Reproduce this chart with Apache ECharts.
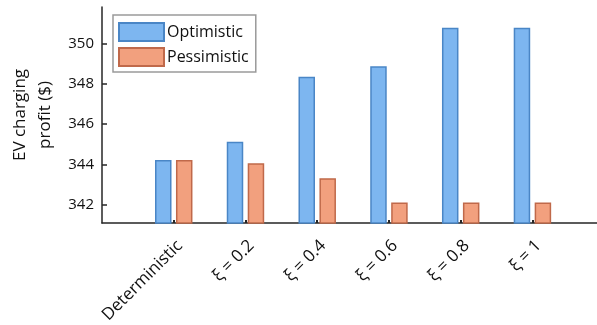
<!DOCTYPE html>
<html>
<head>
<meta charset="utf-8">
<script src="https://cdn.jsdelivr.net/npm/echarts@6/dist/echarts.min.js"></script>
<style>
html,body{margin:0;padding:0;background:#fff;}
#chart{width:597px;height:325px;}
</style>
</head>
<body>
<div id="chart"></div>
<script>
var categories = ['Deterministic', 'ξ = 0.2', 'ξ = 0.4', 'ξ = 0.6', 'ξ = 0.8', 'ξ = 1'];
var optimistic = [344.22, 345.13, 348.34, 348.86, 350.77, 350.77];
var pessimistic = [344.22, 344.06, 343.32, 342.11, 342.11, 342.11];
var yTicks = [342, 344, 346, 348, 350];
var xTicks = [1, 2, 3, 4, 5, 6];

var font = 'Open Sans';
var txt = '#262626';

function pairs(vals) {
  return vals.map(function (v, i) { return [i + 1, v]; });
}

var chart = echarts.init(document.getElementById('chart'), null, {renderer: 'canvas'});
chart.setOption({
  animation: false,
  backgroundColor: '#fff',
  textStyle: {fontFamily: font},
  grid: {left: 102, top: 7, right: 0, bottom: 102, containLabel: false, outerBoundsMode: 'none'},
  legend: {
    orient: 'vertical',
    left: 113,
    top: 15,
    padding: [7, 7, 5, 5],
    itemWidth: 45,
    itemHeight: 18,
    itemGap: 5,
    icon: 'rect',
    backgroundColor: '#fff',
    borderColor: '#9a9a9a',
    borderWidth: 1.5,
    borderRadius: 0,
    textStyle: {fontFamily: font, fontSize: 16, lineHeight: 18, color: '#111', padding: [0, 0, 0, -2]},
    data: ['Optimistic', 'Pessimistic']
  },
  xAxis: {
    type: 'value',
    min: 0,
    max: 6.9,
    interval: 1,
    splitLine: {show: false},
    axisLine: {show: true, onZero: false, lineStyle: {color: txt, width: 1.5}},
    axisTick: {show: true, inside: true, length: 3, customValues: xTicks, lineStyle: {color: txt, width: 2}},
    axisLabel: {
      show: true,
      customValues: xTicks,
      rotate: 45,
      margin: 14,
      verticalAlign: 'top',
      fontFamily: font,
      fontSize: 17,
      color: '#111',
      formatter: function (v) {
        var i = Math.round(v) - 1;
        return categories[i] !== undefined ? categories[i] : '';
      }
    }
  },
  yAxis: {
    type: 'value',
    min: 341.1,
    max: 351.8,
    name: 'EV charging\nprofit ($)',
    nameLocation: 'middle',
    nameGap: 39,
    nameRotate: 90,
    nameTextStyle: {fontFamily: font, fontSize: 17, lineHeight: 25, color: '#111'},
    splitLine: {show: false},
    axisLine: {show: true, lineStyle: {color: txt, width: 1.5}},
    axisTick: {show: true, inside: true, length: 5, customValues: yTicks, lineStyle: {color: txt, width: 1.5}},
    axisLabel: {show: true, customValues: yTicks, margin: 8, fontFamily: font, fontSize: 15, color: '#111'}
  },
  series: [
    {
      name: 'Optimistic',
      type: 'bar',
      data: pairs(optimistic),
      barWidth: 16.5,
      barGap: '27%',
      clip: true,
      itemStyle: {color: '#7DB6F0', borderColor: '#4A86C6', borderWidth: 1.5}
    },
    {
      name: 'Pessimistic',
      type: 'bar',
      data: pairs(pessimistic),
      barWidth: 16.5,
      barGap: '27%',
      clip: true,
      itemStyle: {color: '#F2A07E', borderColor: '#C0694A', borderWidth: 1.5}
    }
  ]
});
</script>
</body>
</html>
